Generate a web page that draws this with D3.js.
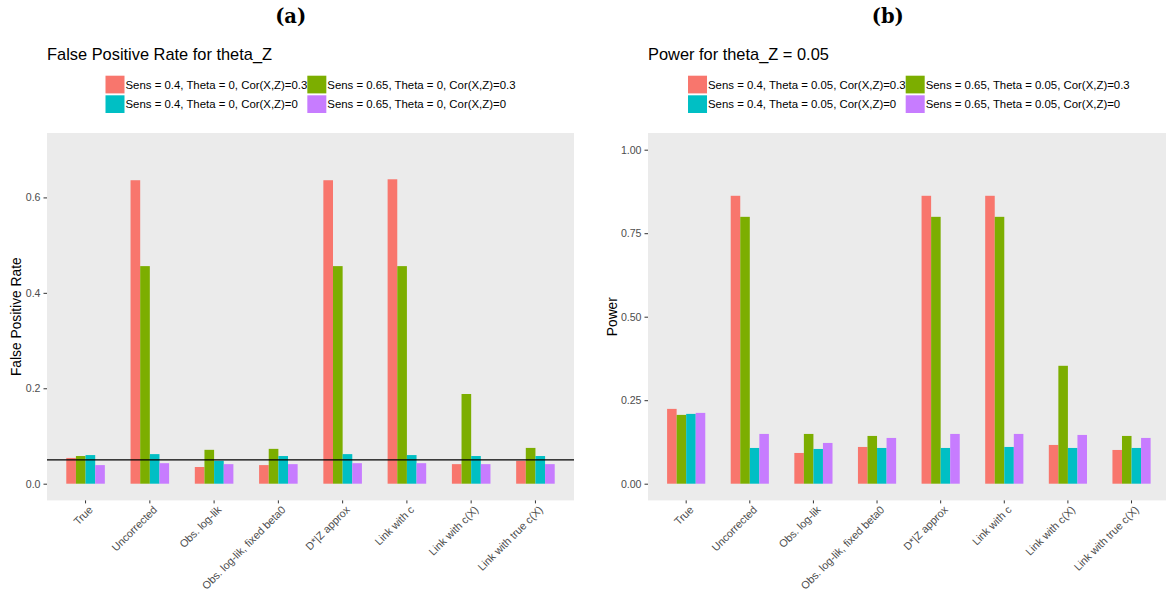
<!DOCTYPE html>
<html><head><meta charset="utf-8">
<script src="https://cdn.jsdelivr.net/npm/d3@7"></script>
<style>
html,body{margin:0;padding:0;background:#fff;}
svg{display:block;font-family:"Liberation Sans",Arial,Helvetica,sans-serif;}
</style></head>
<body><svg id="chart" width="1166" height="593"></svg>
<script>
// ---- data ----
const categories = ["True","Uncorrected","Obs. log-lik","Obs. log-lik, fixed beta0","D*|Z approx","Link with c","Link with c(X)","Link with true c(X)"];
const seriesKeys = ["s04c03","s065c03","s04c0","s065c0"];
const seriesColors = ["#F8766D","#7CAE00","#00BFC4","#C77CFF"];

const fprLabels = ["Sens = 0.4, Theta = 0, Cor(X,Z)=0.3","Sens = 0.65, Theta = 0, Cor(X,Z)=0.3","Sens = 0.4, Theta = 0, Cor(X,Z)=0","Sens = 0.65, Theta = 0, Cor(X,Z)=0"];
const fprS04C03  = [0.054, 0.636, 0.035, 0.039, 0.636, 0.638, 0.041, 0.048];
const fprS065C03 = [0.058, 0.456, 0.071, 0.073, 0.456, 0.456, 0.188, 0.075];
const fprS04C0   = [0.060, 0.062, 0.048, 0.058, 0.062, 0.060, 0.058, 0.058];
const fprS065C0  = [0.039, 0.043, 0.041, 0.041, 0.043, 0.043, 0.041, 0.041];
const fprTicks = [0, 0.2, 0.4, 0.6];
const fprRef = 0.05;

const powLabels = ["Sens = 0.4, Theta = 0.05, Cor(X,Z)=0.3","Sens = 0.65, Theta = 0.05, Cor(X,Z)=0.3","Sens = 0.4, Theta = 0.05, Cor(X,Z)=0","Sens = 0.65, Theta = 0.05, Cor(X,Z)=0"];
const powS04C03  = [0.224, 0.862, 0.092, 0.110, 0.862, 0.862, 0.116, 0.101];
const powS065C03 = [0.206, 0.799, 0.149, 0.143, 0.799, 0.799, 0.353, 0.143];
const powS04C0   = [0.209, 0.107, 0.104, 0.107, 0.107, 0.110, 0.107, 0.107];
const powS065C0  = [0.212, 0.149, 0.122, 0.137, 0.149, 0.149, 0.146, 0.137];
const powTicks = [0, 0.25, 0.5, 0.75, 1.0];

const svg = d3.select("#chart");

function drawPanel(cfg) {
  const g = svg.append("g");
  const x = d3.scaleBand().domain(categories).range([cfg.x0, cfg.x1]).paddingInner(0.4).paddingOuter(0.3);
  const xs = d3.scaleBand().domain(seriesKeys).range([0, x.bandwidth()]).padding(0);
  const y = d3.scaleLinear().domain(cfg.domain).range([cfg.yBot, cfg.yTop]);

  // panel background
  g.append("rect").attr("x", cfg.x0).attr("y", cfg.yTop)
    .attr("width", cfg.x1 - cfg.x0).attr("height", cfg.yBot - cfg.yTop).attr("fill", "#EBEBEB");

  // bars
  const rows = [];
  categories.forEach((c, i) => seriesKeys.forEach((k, j) => rows.push({c, k, j, v: cfg.values[j][i]})));
  g.append("g").selectAll("rect").data(rows).join("rect")
    .attr("x", d => x(d.c) + xs(d.k))
    .attr("width", xs.bandwidth())
    .attr("y", d => y(d.v))
    .attr("height", d => y(0) - y(d.v))
    .attr("fill", d => seriesColors[d.j]);

  if (cfg.hline != null) {
    g.append("line").attr("x1", cfg.x0).attr("x2", cfg.x1)
      .attr("y1", y(cfg.hline)).attr("y2", y(cfg.hline))
      .attr("stroke", "#000").attr("stroke-width", 1.1);
  }

  // y axis
  const ya = g.append("g").attr("transform", `translate(${cfg.x0},0)`)
    .call(d3.axisLeft(y).tickValues(cfg.ticks).tickFormat(d3.format(cfg.fmt)).tickSizeInner(3.5).tickSizeOuter(0).tickPadding(3));
  ya.select(".domain").remove();
  ya.selectAll(".tick line").attr("stroke", "#333333");
  ya.selectAll(".tick text").attr("fill", "#4D4D4D").style("font-size", "10.6px").style("font-family", "Liberation Sans, Arial, sans-serif");

  // x axis
  const xa = g.append("g").attr("transform", `translate(0,${cfg.yBot})`)
    .call(d3.axisBottom(x).tickSizeInner(3).tickSizeOuter(0).tickPadding(2));
  xa.select(".domain").remove();
  xa.selectAll(".tick line").attr("stroke", "#333333");
  xa.selectAll(".tick text")
    .attr("fill", "#4D4D4D").style("font-size", "10.8px").style("font-family", "Liberation Sans, Arial, sans-serif")
    .attr("text-anchor", "end")
    .attr("y", 0).attr("dy", 0)
    .attr("transform", "translate(8,10) rotate(-45)");

  // y title
  g.append("text").attr("transform", `translate(${cfg.ytitleX},${(cfg.yTop + cfg.yBot) / 2}) rotate(-90)`)
    .attr("text-anchor", "middle").style("font-size", "13.8px").attr("fill", "#000").text(cfg.ytitle);

  // title
  g.append("text").attr("x", cfg.x0).attr("y", 59.5).style("font-size", "16.4px").attr("fill", "#000").text(cfg.title);

  // tag
  g.append("text").attr("x", cfg.tagX).attr("y", 23).attr("text-anchor", "middle")
    .style("font-family", "DejaVu Serif, serif").style("font-weight", "bold").style("font-size", "19.5px")
    .attr("fill", "#000").text(cfg.tag);

  // legend
  const kw = 19, kh = 17.7, fs = 11.4;
  const lg = g.append("g");
  const measure = lg.append("text").style("font-size", fs + "px");
  const wOf = s => { measure.text(s); return measure.node().getComputedTextLength(); };
  const w1 = Math.max(wOf(cfg.labels[0]), wOf(cfg.labels[2]));
  const w2 = Math.max(wOf(cfg.labels[1]), wOf(cfg.labels[3]));
  measure.remove();
  const total = kw + 1 + w1 + kw + 1 + w2;
  const lx0 = (cfg.x0 + cfg.x1) / 2 - total / 2;
  const colX = [lx0, lx0 + kw + 1 + w1];
  const rowY = [75.7, 95.3];
  cfg.labels.forEach((lab, i) => {
    const r = Math.floor(i / 2), c = i % 2;
    lg.append("rect").attr("x", colX[c]).attr("y", rowY[r]).attr("width", kw).attr("height", kh).attr("fill", seriesColors[i]);
    lg.append("text").attr("x", colX[c] + kw + 1).attr("y", rowY[r] + kh / 2 + 4.0)
      .style("font-size", fs + "px").attr("fill", "#000").text(lab);
  });
}

drawPanel({
  x0: 47, x1: 574, yTop: 133, yBot: 500.4, domain: [-0.035, 0.735],
  values: [fprS04C03, fprS065C03, fprS04C0, fprS065C0],
  ticks: fprTicks, fmt: ".1f", hline: fprRef,
  title: "False Positive Rate for theta_Z", ytitle: "False Positive Rate", ytitleX: 20.5,
  tag: "(a)", tagX: 290.7, labels: fprLabels
});
drawPanel({
  x0: 648, x1: 1169.7, yTop: 133, yBot: 500.4, domain: [-0.05, 1.05],
  values: [powS04C03, powS065C03, powS04C0, powS065C0],
  ticks: powTicks, fmt: ".2f", hline: null,
  title: "Power for theta_Z = 0.05", ytitle: "Power", ytitleX: 617,
  tag: "(b)", tagX: 887.8, labels: powLabels
});
</script></body></html>
